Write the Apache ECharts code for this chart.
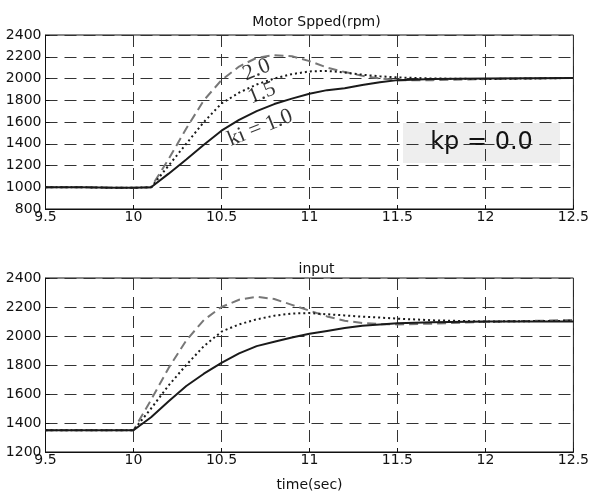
<!DOCTYPE html>
<html><head><meta charset="utf-8">
<script src="https://cdn.jsdelivr.net/npm/echarts@6/dist/echarts.min.js"></script>
<style>html,body{margin:0;padding:0;background:#fff}#c{width:592px;height:498px}</style>
</head><body><div id="c"></div>
<script>
// Motor speed (top)
const speedTime = [9.5,9.7,9.9,10.0,10.1,10.2,10.3,10.4,10.5,10.6,10.7,10.8,10.9,11.0,11.1,11.2,11.3,11.4,11.5,11.7,12.0,12.5];
const speedKi10 = [1000,1000,995,995,1000,1125,1255,1390,1520,1620,1700,1765,1815,1860,1893,1910,1940,1965,1985,1995,2000,2005];
const speedKi15 = [1000,1000,995,995,1000,1200,1400,1600,1770,1870,1945,2000,2040,2065,2070,2055,2035,2020,2010,2000,1995,2005];
const speedKi20 = [1000,1000,995,995,1000,1260,1540,1800,1985,2110,2190,2215,2205,2160,2100,2060,2025,2000,1985,1985,1995,2005];
// Input (bottom)
const inputTime = [9.5,10.0,10.1,10.2,10.3,10.4,10.5,10.6,10.7,10.8,10.9,11.0,11.1,11.2,11.3,11.4,11.5,11.7,12.0,12.5];
const inputKi10 = [1350,1350,1440,1550,1655,1740,1815,1880,1930,1960,1990,2015,2035,2055,2070,2080,2088,2095,2100,2100];
const inputKi15 = [1350,1350,1500,1660,1800,1930,2030,2080,2115,2140,2155,2158,2150,2142,2133,2127,2120,2108,2100,2105];
const inputKi20 = [1350,1350,1560,1780,1970,2110,2200,2250,2270,2255,2215,2175,2135,2105,2090,2082,2080,2085,2098,2110];
// curve annotations
const curveLabels = [
  {text:'2.0', t:10.70, v:2078},
  {text:'1.5', t:10.73, v:1864},
  {text:'ki = 1.0', t:10.72, v:1545}
];
const kpText = 'kp = 0.0';

const pairs = (xs, ys) => xs.map((x,i)=>[x, ys[i]]);
const font = '"DejaVu Sans", sans-serif';
const gridLine = {show:true, lineStyle:{type:[12,7], color:'#333', width:1}};
const GL = 45.5, GR = 14.5;

function xAxis(gi){
  return {type:'value', gridIndex:gi, min:9.5, max:12.5, interval:0.5,
    axisLine:{onZero:false, lineStyle:{color:'#111'}}, axisTick:{inside:true, length:4, lineStyle:{color:'#111'}},
    axisLabel:{color:'#111', fontFamily:font, fontSize:14, margin:1, formatter:v=>String(v)},
    splitLine:gridLine,
    name: gi===1 ? 'time(sec)' : '', nameLocation:'middle', nameGap:26,
    nameTextStyle:{color:'#111', fontFamily:font, fontSize:14}};
}
function yAxis(gi, mn){
  return {type:'value', gridIndex:gi, min:mn, max:2400, interval:200,
    axisLine:{show:true, lineStyle:{color:'#111'}}, axisTick:{inside:true, length:4, lineStyle:{color:'#111'}},
    axisLabel:{color:'#111', fontFamily:font, fontSize:14, margin:4, formatter:v=>String(v)},
    splitLine:gridLine};
}
const solid = {color:'#1a1a1a', width:2, type:'solid'};
const dotted = {color:'#1a1a1a', width:2, type:[2,3]};
const dashed = {color:'#777', width:2, type:[9,5]};
function line(gi, xs, ys, style){
  return {type:'line', xAxisIndex:gi, yAxisIndex:gi, data:pairs(xs,ys), symbol:'none',
    lineStyle:style, animation:false, z:3};
}

const chart = echarts.init(document.getElementById('c'));
chart.setOption({
  animation:false,
  title:[
    {text:'Motor Spped(rpm)', left:311.5, top:10, textAlign:'center', textStyle:{fontFamily:font, fontSize:14, fontWeight:'normal', color:'#111'}},
    {text:'input', left:311.5, top:257, textAlign:'center', textStyle:{fontFamily:font, fontSize:14, fontWeight:'normal', color:'#111'}}
  ],
  grid:[
    {left:GL, right:GR, top:35, height:174, show:true, borderColor:'#111', borderWidth:1, backgroundColor:'transparent'},
    {left:GL, right:GR, top:278, height:174, show:true, borderColor:'#111', borderWidth:1, backgroundColor:'transparent'}
  ],
  xAxis:[xAxis(0), xAxis(1)],
  yAxis:[yAxis(0,800), yAxis(1,1200)],
  series:[
    line(0, speedTime, speedKi20, dashed),
    line(0, speedTime, speedKi15, dotted),
    line(0, speedTime, speedKi10, solid),
    line(1, inputTime, inputKi20, dashed),
    line(1, inputTime, inputKi15, dotted),
    line(1, inputTime, inputKi10, solid),
    {type:'scatter', xAxisIndex:0, yAxisIndex:0, symbolSize:0, z:5, animation:false,
     itemStyle:{color:'#111'},
     data: curveLabels.map(l=>({value:[l.t,l.v], name:l.text})),
     label:{show:true, position:'inside', formatter:p=>p.name, rotate:22,
       fontFamily:'"Liberation Serif", serif', fontSize:22, color:'#000',
       textBorderWidth:0, textBorderColor:'transparent'}}
  ],
  graphic:[
    {type:'group', left:403, top:123, children:[
      {type:'rect', shape:{x:0,y:0,width:157,height:40}, style:{fill:'#eeeeee'}},
      {type:'text', x:78.5, y:20, style:{text:kpText, fill:'#111', font:'24px "DejaVu Sans", sans-serif', textAlign:'center', textVerticalAlign:'middle'}}
    ]}
  ]
});
</script></body></html>
